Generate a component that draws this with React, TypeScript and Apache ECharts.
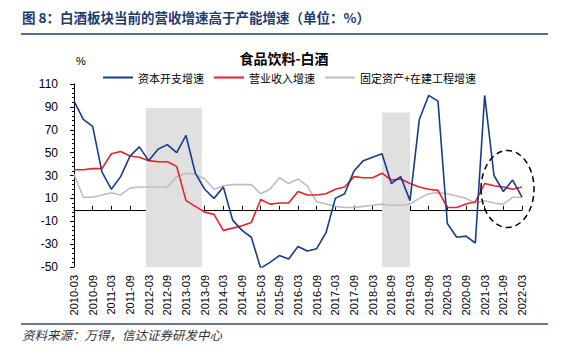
import React, { useEffect, useRef } from "react";
import * as echarts from "echarts";

const categories = [
  "2010-03","2010-06","2010-09","2010-12","2011-03","2011-06","2011-09","2011-12",
  "2012-03","2012-06","2012-09","2012-12","2013-03","2013-06","2013-09","2013-12",
  "2014-03","2014-06","2014-09","2014-12","2015-03","2015-06","2015-09","2015-12",
  "2016-03","2016-06","2016-09","2016-12","2017-03","2017-06","2017-09","2017-12",
  "2018-03","2018-06","2018-09","2018-12","2019-03","2019-06","2019-09","2019-12",
  "2020-03","2020-06","2020-09","2020-12","2021-03","2021-06","2021-09","2021-12",
  "2022-03",
];

const capexGrowth = [
  95, 79, 73, 33, 18, 29, 47, 55, 43, 53, 57, 50, 65, 32, 18, 10,
  20, -9, -18, -24, -51, -46, -40, -43, -32, -36, -34, -20, 10, 14, 34, 43,
  46, 49, 23, 29, 8, 79, 100, 95, -12, -24, -23, -29, 100, 30, 16, 26, 11,
];

const revenueGrowth = [
  35, 35, 36, 36, 49, 51, 47, 46, 43, 42, 42, 38, 8, 3, -2, -4,
  -18, -16, -14, -11, 9, 5, 6, 6, 16, 13, 13, 14, 18, 20, 29, 28,
  28, 32, 26, 27, 23, 20, 18, 17, 2, 2, 5, 7, 23, 21, 20, 18, 20,
];

const fixedAssetGrowth = [
  31, 11, 11, 13, 15, 13, 19, 20, 20, 20, 20, 29, 32, 31, 27, 18,
  21, 22, 22, 22, 14, 18, 28, 23, 27, 21, 7, 5, 3, 2, 2, 3,
  4, 5, 4, 4, 5, 10, 14, 15, 14, 12, 10, 6, 8, 6, 5, 11, 11,
];

const seriesNames = ["资本开支增速", "营业收入增速", "固定资产+在建工程增速"];
const seriesColors = ["#1a3a8c", "#e8212b", "#bdbdbd"];

// shaded periods in quarter-index units
const shadeStart = [7.7, 33];
const shadeEnd = [13.7, 36];
const shadeTop = [89, 85];

const yTicks = { min: -50, max: 110, interval: 20 };

const FONT = "'Liberation Sans', Arial, 'Noto Sans CJK SC', sans-serif";
const CJK = "'Noto Sans CJK SC', 'Liberation Sans', sans-serif";

export default function App() {
  const ref = useRef<HTMLDivElement>(null);

  useEffect(() => {
    if (!ref.current) return;
    const chart = echarts.init(ref.current, null, { renderer: "svg" });
    const values = [capexGrowth, revenueGrowth, fixedAssetGrowth];

    const lineSeries = seriesNames.map((name, i) => ({
      name,
      type: "line",
      xAxisIndex: 1,
      data: values[i],
      symbol: "none",
      z: i === 0 ? 5 : i === 1 ? 4 : 3,
      lineStyle: { color: seriesColors[i], width: 1.6 },
      itemStyle: { color: seriesColors[i] },
    }));

    const shadeSeries = {
      name: "shade",
      type: "line",
      xAxisIndex: 2,
      data: [],
      silent: true,
      z: 0,
      markArea: {
        silent: true,
        itemStyle: { color: "#e0e0e0" },
        data: shadeStart.map((s, i) => [
          { xAxis: s, yAxis: yTicks.min },
          { xAxis: shadeEnd[i], yAxis: shadeTop[i] },
        ]),
      },
    };

    chart.setOption({
      animation: false,
      textStyle: { fontFamily: FONT },
      grid: { left: 74, right: 46, top: 84, bottom: 88 },
      legend: {
        left: 98,
        top: 67,
        itemWidth: 30,
        itemHeight: 2,
        itemGap: 10,
        textStyle: { fontSize: 11, color: "#000", fontFamily: CJK },
        data: seriesNames.map((n) => ({ name: n, icon: "rect" })),
      },
      xAxis: [
        {
          type: "category",
          data: categories,
          boundaryGap: false,
          position: "bottom",
          axisLine: { show: false, onZero: false },
          axisTick: { show: false },
          splitLine: { show: false },
          axisLabel: {
            rotate: 90,
            interval: 1,
            fontSize: 11,
            color: "#000",
            margin: 8,
            fontFamily: FONT,
          },
        },
        {
          type: "category",
          data: categories,
          boundaryGap: false,
          position: "bottom",
          axisLine: { show: true, onZero: true, lineStyle: { color: "#000", width: 1.2 } },
          axisTick: { show: true, inside: true, interval: 1, length: 4, lineStyle: { color: "#000" } },
          axisLabel: { show: false },
          splitLine: { show: false },
        },
        {
          type: "value",
          min: 0,
          max: categories.length - 1,
          show: false,
        },
      ],
      yAxis: {
        type: "value",
        min: yTicks.min,
        max: yTicks.max,
        interval: yTicks.interval,
        axisLine: { show: true, lineStyle: { color: "#000", width: 1 } },
        axisTick: { show: true, length: 4, lineStyle: { color: "#000" } },
        minorTick: { show: true, splitNumber: 5, length: 2, lineStyle: { color: "#000" } },
        splitLine: { show: false },
        axisLabel: { fontSize: 12, color: "#000", margin: 16, fontFamily: FONT },
      },
      series: [shadeSeries, ...lineSeries],
      graphic: [
        {
          type: "text",
          left: 22,
          top: 10,
          style: {
            text: "图 8：白酒板块当前的营收增速高于产能增速（单位：%）",
            fill: "#1f3a6e",
            font: `bold 13.5px ${CJK}`,
          },
        },
        {
          type: "line",
          shape: { x1: 21, y1: 34, x2: 548, y2: 34 },
          style: { stroke: "#1f3a6e", lineWidth: 1.5 },
        },
        {
          type: "text",
          left: "center",
          top: 51,
          style: {
            text: "食品饮料-白酒",
            fill: "#000",
            font: `bold 14px ${CJK}`,
          },
        },
        {
          type: "text",
          left: 76,
          top: 55,
          style: { text: "%", fill: "#000", font: `11px ${FONT}` },
        },
        {
          type: "ellipse",
          shape: { cx: 507.5, cy: 189, rx: 26.5, ry: 38.5 },
          style: { fill: "none", stroke: "#000", lineWidth: 1.5, lineDash: [6, 4] },
          z: 10,
        },
        {
          type: "line",
          shape: { x1: 21, y1: 324, x2: 548, y2: 324 },
          style: { stroke: "#3b4a6b", lineWidth: 1.5 },
        },
        {
          type: "text",
          left: 22,
          top: 328,
          style: {
            text: "资料来源：万得，信达证券研发中心",
            fill: "#333",
            font: `italic 12.5px ${CJK}`,
          },
        },
      ],
    });

    return () => chart.dispose();
  }, []);

  return (
    <div
      ref={ref}
      style={{ position: "fixed", left: 0, top: 0, width: 568, height: 355, background: "#fff" }}
    />
  );
}
